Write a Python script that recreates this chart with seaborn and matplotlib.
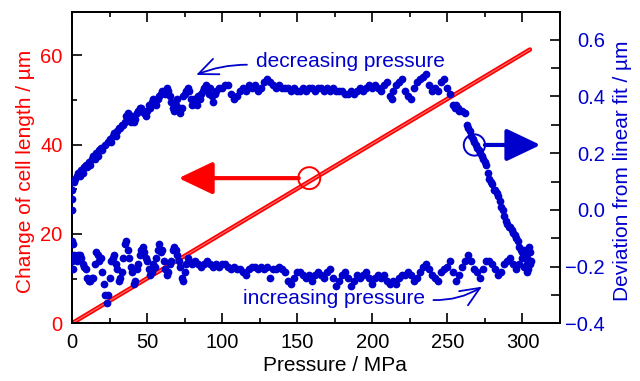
import matplotlib
matplotlib.use("Agg")
import matplotlib.pyplot as plt
from matplotlib.ticker import MultipleLocator
import numpy as np
import pandas as pd
import seaborn as sns

# ---------------- data ----------------
# linear change of cell length (left axis)
line_p = [0, 305]
line_len = [0, 61.3]

# deviation from linear fit, decreasing-pressure branch (right axis)
dec_p = [0, 0, 0, 0.3, 0.6, 1, 2, 3, 4, 5,
         6, 7, 8, 9, 10, 11, 12, 13, 14, 15,
         16, 17, 18, 19, 20, 22, 24, 25, 26, 27,
         28, 29, 30, 31, 32, 33, 34, 35, 36, 37,
         38, 39, 40, 41, 42, 43, 44, 45, 46, 47,
         48, 49, 50, 51, 52, 53, 54, 55, 56, 57,
         58, 59, 60, 62, 63, 64, 65, 66, 67, 68,
         69, 70, 71, 72, 73, 74, 75, 76, 77, 78,
         79, 80, 81, 82, 83, 84, 85, 86, 87, 88,
         89, 90, 91, 92, 93, 94, 95, 96, 98, 100,
         102, 104, 106, 108, 110, 112, 114, 116, 118, 120,
         122, 124, 126, 128, 130, 132, 134, 136, 138, 140,
         142, 144, 146, 148, 150, 152, 154, 156, 158, 160,
         162, 164, 166, 168, 170, 172, 174, 176, 178, 180,
         182, 184, 186, 188, 190, 192, 194, 196, 198, 200,
         202, 204, 206, 208, 210, 212, 213, 214, 216, 218,
         220, 222, 224, 226, 228, 230, 232, 234, 236, 238,
         240, 242, 244, 246, 248, 250, 252, 254, 255, 256,
         257, 258, 260, 262, 263, 264, 265, 266, 267, 268,
         269, 270, 271, 272, 273, 274, 275, 276, 277, 278,
         279, 280, 281, 282, 283, 284, 285, 286, 287, 288,
         289, 290, 291, 292, 293, 294, 295, 296, 297, 298,
         299, 300, 301, 302, 303, 304, 305]
dec_dev = [0.00, 0.04, 0.07, -0.11, -0.12, 0.10, 0.11, 0.12, 0.13, 0.12,
           0.14, 0.13, 0.15, 0.16, 0.15, 0.17, 0.16, 0.18, 0.19, 0.18,
           0.20, 0.19, 0.21, 0.22, 0.21, 0.23, 0.24, 0.25, 0.24, 0.26,
           0.27, 0.26, 0.28, 0.29, 0.29, 0.30, 0.30, 0.31, 0.33, 0.34,
           0.32, 0.31, 0.33, 0.31, 0.32, 0.34, 0.35, 0.36, 0.36, 0.35,
           0.34, 0.33, 0.35, 0.37, 0.36, 0.38, 0.39, 0.38, 0.37, 0.39,
           0.40, 0.41, 0.42, 0.41, 0.43, 0.42, 0.40, 0.38, 0.36, 0.35,
           0.37, 0.39, 0.36, 0.34, 0.36, 0.40, 0.41, 0.42, 0.43, 0.42,
           0.39, 0.37, 0.39, 0.38, 0.37, 0.40, 0.39, 0.41, 0.42, 0.43,
           0.44, 0.43, 0.41, 0.43, 0.40, 0.38, 0.41, 0.42, 0.43, 0.43,
           0.44, 0.44, 0.41, 0.39, 0.40, 0.42, 0.43, 0.42, 0.44, 0.43,
           0.44, 0.42, 0.43, 0.45, 0.46, 0.45, 0.44, 0.43, 0.44, 0.43,
           0.43, 0.43, 0.42, 0.43, 0.42, 0.42, 0.43, 0.42, 0.43, 0.43,
           0.42, 0.43, 0.43, 0.42, 0.43, 0.42, 0.43, 0.42, 0.42, 0.42,
           0.41, 0.41, 0.42, 0.41, 0.42, 0.43, 0.42, 0.43, 0.44, 0.43,
           0.44, 0.43, 0.42, 0.44, 0.45, 0.40, 0.39, 0.42, 0.44, 0.45,
           0.46, 0.42, 0.40, 0.39, 0.43, 0.45, 0.46, 0.47, 0.48, 0.44,
           0.42, 0.43, 0.42, 0.45, 0.46, 0.43, 0.41, 0.37, 0.36, 0.37,
           0.36, 0.35, 0.35, 0.34, 0.30, 0.29, 0.28, 0.26, 0.25, 0.24,
           0.23, 0.22, 0.21, 0.20, 0.19, 0.18, 0.17, 0.16, 0.13, 0.11,
           0.10, 0.09, 0.07, 0.07, 0.06, 0.05, 0.03, 0.01, 0.00, -0.02,
           -0.04, -0.05, -0.06, -0.06, -0.07, -0.08, -0.09, -0.10, -0.11, -0.13,
           -0.14, -0.15, -0.16, -0.17, -0.17, -0.18, -0.19]

# deviation from linear fit, increasing-pressure branch (right axis)
inc_p = [0, 0.5, 1, 2, 3, 4, 5, 6, 7, 8,
         9, 10, 11, 12, 13, 14, 15, 16, 17, 18,
         19, 20, 21, 22, 23, 24, 25, 26, 27, 28,
         29, 30, 31, 32, 33, 34, 35, 36, 37, 38,
         39, 40, 41, 42, 43, 44, 45, 46, 47, 48,
         49, 50, 51, 52, 53, 54, 55, 56, 57, 58,
         59, 60, 61, 62, 63, 64, 65, 66, 67, 68,
         69, 70, 71, 72, 73, 74, 75, 76, 77, 78,
         80, 82, 84, 86, 88, 90, 92, 94, 96, 98,
         100, 102, 104, 106, 108, 110, 112, 114, 116, 118,
         120, 122, 124, 126, 128, 130, 132, 134, 136, 138,
         140, 142, 144, 146, 148, 150, 152, 154, 156, 158,
         160, 162, 164, 166, 168, 170, 172, 174, 176, 178,
         180, 182, 184, 186, 188, 190, 192, 194, 196, 198,
         200, 202, 204, 206, 208, 210, 212, 214, 216, 218,
         220, 222, 224, 226, 228, 230, 232, 234, 236, 238,
         240, 242, 244, 246, 248, 250, 252, 254, 256, 258,
         260, 262, 264, 266, 268, 270, 272, 274, 276, 278,
         280, 282, 284, 286, 288, 290, 292, 294, 296, 298,
         300, 301, 302, 303, 304, 304.5, 305, 305.5, 303, 301]
inc_dev = [-0.18, -0.21, -0.16, -0.17, -0.18, -0.16, -0.16, -0.17, -0.19, -0.20,
           -0.21, -0.24, -0.25, -0.25, -0.24, -0.24, -0.19, -0.15, -0.16, -0.18,
           -0.17, -0.22, -0.26, -0.30, -0.33, -0.30, -0.24, -0.18, -0.17, -0.16,
           -0.19, -0.21, -0.25, -0.24, -0.22, -0.17, -0.12, -0.11, -0.14, -0.17,
           -0.20, -0.22, -0.26, -0.25, -0.21, -0.19, -0.16, -0.14, -0.13, -0.15,
           -0.17, -0.18, -0.21, -0.23, -0.22, -0.19, -0.20, -0.17, -0.14, -0.12,
           -0.15, -0.14, -0.18, -0.21, -0.23, -0.22, -0.19, -0.18, -0.14, -0.13,
           -0.14, -0.16, -0.18, -0.20, -0.24, -0.25, -0.22, -0.19, -0.17, -0.18,
           -0.19, -0.18, -0.19, -0.20, -0.19, -0.18, -0.19, -0.20, -0.19, -0.20,
           -0.19, -0.19, -0.20, -0.21, -0.20, -0.21, -0.21, -0.22, -0.23, -0.21,
           -0.20, -0.20, -0.21, -0.20, -0.21, -0.20, -0.24, -0.21, -0.21, -0.20,
           -0.21, -0.22, -0.25, -0.26, -0.24, -0.22, -0.22, -0.23, -0.24, -0.23,
           -0.25, -0.23, -0.22, -0.23, -0.24, -0.22, -0.21, -0.24, -0.27, -0.25,
           -0.23, -0.22, -0.24, -0.27, -0.25, -0.23, -0.24, -0.23, -0.22, -0.24,
           -0.26, -0.24, -0.23, -0.24, -0.23, -0.25, -0.26, -0.25, -0.26, -0.24,
           -0.23, -0.23, -0.22, -0.23, -0.25, -0.24, -0.22, -0.20, -0.19, -0.21,
           -0.23, -0.24, -0.25, -0.22, -0.21, -0.20, -0.18, -0.22, -0.25, -0.23,
           -0.20, -0.18, -0.16, -0.18, -0.21, -0.22, -0.24, -0.21, -0.18, -0.18,
           -0.19, -0.21, -0.23, -0.22, -0.19, -0.18, -0.17, -0.19, -0.21, -0.19,
           -0.17, -0.20, -0.16, -0.19, -0.21, -0.13, -0.15, -0.18, -0.22, -0.14]

x_ticks = [0, 50, 100, 150, 200, 250, 300]
left_ticks = [0, 20, 40, 60]
right_ticks = [-0.4, -0.2, 0.0, 0.2, 0.4, 0.6]

# ---------------- style ----------------
RED = "#ff0000"
BLUE = "#0000cc"
sns.set_style("white")
plt.rcParams["font.family"] = ["Liberation Sans", "DejaVu Sans"]
plt.rcParams["axes.linewidth"] = 1.3

fig = plt.figure(figsize=(6.4, 3.81), dpi=100)
ax = fig.add_axes([72 / 640, 1 - 323.3 / 381, 488 / 640, 311.3 / 381])
ax2 = ax.twinx()

# red line (double-stroke look)
sns.lineplot(x=line_p, y=line_len, ax=ax, color=RED, lw=3.2, zorder=2)
sns.lineplot(x=line_p, y=line_len, ax=ax, color="#ff7070", lw=0.8, zorder=2.1)

# blue points
df = pd.DataFrame({"p": dec_p + inc_p, "dev": dec_dev + inc_dev})
sns.scatterplot(data=df, x="p", y="dev", ax=ax2, color=BLUE, s=31,
                linewidth=0, zorder=3)

# limits / ticks
ax.set_xlim(0, 325)
ax.set_ylim(0, 69.7)
ax2.set_ylim(-0.4, 0.698)
ax.set_xticks(x_ticks)
ax.set_yticks(left_ticks)
ax2.set_yticks(right_ticks)
ax.xaxis.set_minor_locator(MultipleLocator(25))
ax.yaxis.set_minor_locator(MultipleLocator(10))
ax2.yaxis.set_minor_locator(MultipleLocator(0.1))

ax.tick_params(axis="x", which="both", direction="in", top=True, bottom=True,
               labelsize=14.5, pad=7, colors="black")
ax.tick_params(axis="y", which="both", direction="in", left=True, right=False,
               labelsize=14.5, pad=6.7, color="black", labelcolor=RED)
ax.tick_params(which="major", length=7, width=1.2)
ax.tick_params(which="minor", length=3.8, width=1.2)
ax2.tick_params(axis="y", which="both", direction="in", right=True, left=False,
                labelsize=14.5, pad=32.4, color="black", labelcolor=BLUE)
ax2.tick_params(axis="y", which="major", length=7, width=1.2)
ax2.tick_params(axis="y", which="minor", length=6.5, width=1.2)
ax2.set_yticklabels([f"{v:.1f}".replace("-", "\u2212") for v in right_ticks])
for lab in ax2.get_yticklabels():
    lab.set_horizontalalignment("right")

for a in (ax, ax2):
    for s in a.spines.values():
        s.set_color("black")
        s.set_linewidth(1.3)

# labels
ax.set_xlabel("Pressure / MPa", fontsize=15, color="black")
ax.xaxis.set_label_coords(0.539, -0.105)
ax.set_ylabel("Change of cell length / \u00b5m", fontsize=15, color=RED)
ax.yaxis.set_label_coords(-0.075, 0.488)
ax2.set_ylabel("Deviation from linear fit / \u00b5m", fontsize=15, color=BLUE)
ax2.yaxis.set_label_coords(1.108, 0.49)

# annotation: red circle + arrow to the left axis
ax.scatter([158], [32.5], s=250, facecolors="none", edgecolors=RED,
           linewidths=1.4, zorder=4)
ax.annotate("", xy=(71, 32.5), xytext=(151, 32.5),
            arrowprops=dict(arrowstyle="-|>,head_length=1.05,head_width=0.5",
                            lw=3, color=RED, shrinkA=0, shrinkB=0,
                            mutation_scale=20), zorder=4)

# annotation: blue circle + arrow to the right axis
ax2.scatter([268], [0.229], s=235, facecolors="none", edgecolors=BLUE,
            linewidths=1.4, zorder=4)
ax2.annotate("", xy=(312, 0.229), xytext=(275, 0.229),
             arrowprops=dict(arrowstyle="-|>,head_length=1.05,head_width=0.5",
                             lw=3, color=BLUE, shrinkA=0, shrinkB=0,
                             mutation_scale=20), zorder=4)

# branch labels with curved arrows
ax.text(185.3, 58.6, "decreasing pressure", ha="center", va="center",
        fontsize=15, color=BLUE)
ax.annotate("", xy=(82.7, 55.6), xytext=(116.5, 57.9),
            arrowprops=dict(arrowstyle="->,head_length=0.7,head_width=0.3",
                            lw=1.3, color=BLUE, shrinkA=0, shrinkB=0,
                            mutation_scale=20,
                            connectionstyle="arc3,rad=0.1"))
ax.text(174.7, 5.66, "increasing pressure", ha="center", va="center",
        fontsize=15, color=BLUE)
ax.annotate("", xy=(273, 8.2), xytext=(240.7, 5.2),
            arrowprops=dict(arrowstyle="->,head_length=0.7,head_width=0.3",
                            lw=1.3, color=BLUE, shrinkA=0, shrinkB=0,
                            mutation_scale=20,
                            connectionstyle="arc3,rad=0.15"))

fig.savefig("out.png", dpi=100)
